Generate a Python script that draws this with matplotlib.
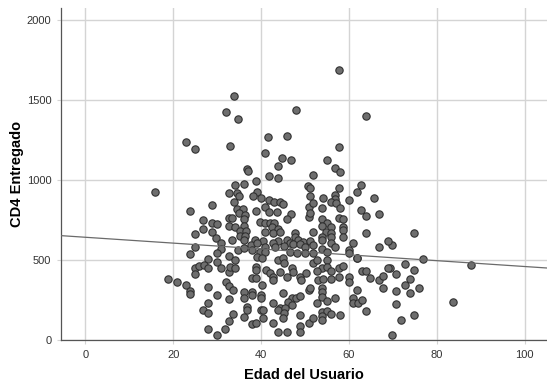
import matplotlib
matplotlib.use("Agg")
import matplotlib.pyplot as plt
import numpy as np

plt.rcParams['font.family'] = ['Liberation Sans', 'DejaVu Sans']

# (age, cd4) pairs
points = [
    # upper region
    (33.8,1527),(31.9,1427),(34.8,1383),(22.9,1241),(24.9,1196),(32.8,1214),(41.6,1271),(40.9,1169),(36.8,1069),
    (57.8,1690),(47.9,1440),(63.8,1404),(45.8,1275),(57.8,1206),(44.8,1139),(46.9,1129),(54.9,1125),(43.9,1087),(56.9,1075),
    # left-middle
    (15.8,928),(32.7,918),(28.9,843),(23.8,808),(26.8,749),(28.8,730),(29.9,724),(32.7,762),(32.7,714),(26.8,697),
    (28.9,676),(24.9,665),(29.8,640),(30.8,609),(24.9,584),(30.8,571),(29.9,543),(23.8,540),(27.9,509),(32.7,526),
    # right side
    (74.8,672),(69.7,597),(76.8,505),
    (87.8,469),(72.8,478),(69.4,449),(74.8,438),(70.8,415),(73.8,380),(72.8,346),(75.9,328),(70.8,307),(73.8,296),
    (83.8,238),(70.8,225),(74.8,156),(71.8,125),(69.9,29),
    # left-lower
    (29.9,490),(24.9,452),(25.9,461),(27.0,467),(28.0,449),(30.8,453),(32.7,428),(24.9,413),(18.9,380),(20.9,361),
    (22.9,346),(32.0,361),(32.7,338),(27.9,332),(23.8,307),(23.8,288),(29.9,284),(32.7,257),(27.9,230),(26.8,186),
    (28.0,167),(32.7,119),(27.9,69),(31.8,69),(29.9,29),
    # centre-left middle
    (36.9,1058),(41.9,1026),(43.9,1014),(38.8,995),(34.0,970),(36.0,976),(50.7,966),(34.4,918),(34.9,901),(39.0,928),
    (38.1,901),(40.0,887),(41.9,876),(42.9,866),(44.2,866),(44.9,849),(33.8,862),(40.9,834),(41.9,803),(43.6,803),
    (38.8,809),(34.4,818),(35.9,818),(35.0,793),(36.3,782),(46.8,786),(45.8,757),(50.9,834),(50.9,772),(33.3,761),
    (36.0,755),(39.8,736),(40.9,730),(42.0,734),(43.0,730),(34.1,705),(36.0,713),(42.4,705),(43.8,695),(35.2,682),
    (36.6,684),(40.9,678),(42.8,668),(44.3,674),(35.2,653),(36.3,653),(47.7,672),(47.7,642),(33.3,626),(36.0,626),
    (38.6,626),(40.5,622),(43.9,622),(45.8,626),(46.6,609),(48.5,626),(49.5,615),(37.6,594),(39.0,605),(40.9,580),
    (42.8,605),(43.2,580),(45.1,588),(47.2,601),(48.9,601),(50.0,580),(34.8,563),(36.0,574),(39.8,553),(40.9,553),
    (46.6,553),(48.1,542),(50.0,542),(37.9,563),
    # centre-right middle
    (51.9,1033),(58.0,1054),(62.8,970),(61.9,924),(57.8,953),(51.1,949),(51.1,901),(54.0,891),(56.8,907),(56.8,880),
    (55.8,866),(57.1,860),(51.9,855),(58.0,828),(59.9,876),(65.8,887),(53.8,824),(51.1,793),(62.8,814),(63.8,778),
    (66.9,789),(53.8,755),(57.8,766),(58.7,757),(54.9,730),(53.9,715),(55.8,705),(58.7,709),(58.7,688),(51.9,678),
    (54.8,678),(53.9,647),(55.8,668),(55.8,647),(58.7,647),(63.8,668),(51.1,622),(53.8,626),(60.9,605),(68.8,620),
    (51.9,594),(55.8,605),(56.8,584),(66.9,580),(53.8,569),(54.9,553),(59.9,563),(59.9,542),(51.9,542),(61.8,511),
    # centre-left lower
    (39.0,522),(40.1,515),(43.9,501),(44.9,511),(45.1,480),(34.1,501),(32.9,459),(34.1,449),(38.8,459),(38.8,438),
    (41.1,438),(42.0,417),(42.8,396),(42.8,375),(44.2,423),(46.0,396),(47.0,449),(47.3,428),(48.9,396),(49.1,375),
    (50.2,417),(37.9,386),(38.8,386),(40.1,344),(33.7,313),(36.0,302),(36.0,261),(37.9,302),(37.9,282),(39.9,282),
    (39.9,265),(44.9,292),(50.8,313),(42.8,229),(47.0,261),(48.0,265),(48.9,275),(46.2,240),(47.0,219),(44.3,198),
    (43.9,188),(45.4,198),(45.1,167),(36.7,209),(36.7,188),(36.0,146),(33.7,160),(39.9,188),(40.5,188),(40.5,135),
    (44.9,135),(42.8,104),(37.9,98),(38.8,104),(48.9,156),(48.9,90),(48.9,52),(43.9,52),(45.8,52),(50.8,104),
    # centre-right lower
    (51.9,480),(52.8,501),(54.9,501),(61.9,511),(53.8,449),(54.9,459),(55.8,432),(52.8,432),(57.8,449),(58.7,465),
    (53.0,375),(54.0,382),(55.8,382),(57.8,396),(59.9,396),(59.9,365),(62.9,432),(63.8,434),(64.8,386),(66.9,375),
    (67.7,403),(68.8,453),(67.8,323),(53.8,327),(53.8,302),(53.8,271),(51.1,323),(61.9,313),(60.9,265),(60.9,229),
    (62.0,229),(62.9,250),(56.8,261),(52.8,234),(54.9,244),(53.8,177),(54.9,181),(53.8,152),(53.8,125),(55.8,160),
    (57.9,156),(51.9,140),(63.9,181),
]
age = [p[0] for p in points]
cd4 = [p[1] for p in points]

# fit line (intercept, slope)
fit_coef = [643.0, -1.83]

x_ticks = [0, 20, 40, 60, 80, 100]
y_ticks = [0, 500, 1000, 1500, 2000]

fig = plt.figure(figsize=(5.47, 3.81), dpi=100)
ax = fig.add_axes([0.1115, 0.1076, 0.8885, 0.8714])

ax.set_xlim(-5.58, 105.1)
ax.set_ylim(0, 2078)
ax.set_xticks(x_ticks)
ax.set_yticks(y_ticks)
ax.grid(True, color='#d4d4d4', linewidth=1.0)
ax.set_axisbelow(True)

ax.scatter(age, cd4, s=28, facecolor='#6e6e6e', edgecolor='#303030', linewidth=0.8, zorder=3)

xl = np.array(ax.get_xlim())
ax.plot(xl, fit_coef[0] + fit_coef[1] * xl, color='#6a6a6a', linewidth=0.9, zorder=4)

for s in ['top', 'right']:
    ax.spines[s].set_visible(False)
for s in ['left', 'bottom']:
    ax.spines[s].set_color('#555555')
    ax.spines[s].set_linewidth(0.9)

ax.tick_params(axis='both', length=3, color='#d4d4d4', labelsize=8, labelcolor='#333333', pad=4)
ax.set_xlabel('Edad del Usuario', fontsize=10.5, fontweight='bold')
ax.set_ylabel('CD4 Entregado', fontsize=10.5, fontweight='bold')
ax.xaxis.set_label_coords(0.5, -0.083)
ax.yaxis.set_label_coords(-0.077, 0.5)

fig.savefig('out.png', dpi=100)
